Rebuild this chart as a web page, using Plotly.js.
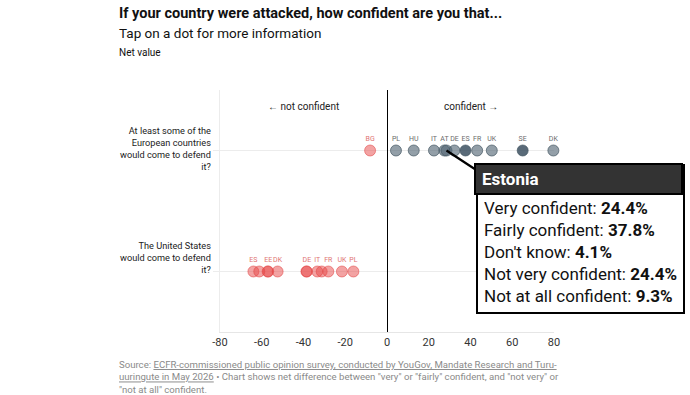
<!DOCTYPE html>
<html><head><meta charset="utf-8">
<script src="https://cdn.plot.ly/plotly-3.0.1.min.js"></script>
<style>html,body{margin:0;padding:0;background:#fff}#c{width:690px;height:395px}</style>
</head><body><div id="c"></div>
<script>
const rows = ['At least some of the<br>European countries<br>would come to defend<br>it?', 'The United States<br>would come to defend<br>it?'];
const countries = ['BG','PL','HU','IT','AT','EE','DE','ES','FR','UK','SE','DK'];
const europeNet = [-8.1, 4.3, 12.8, 22.5, 27.5, 28.5, 32.3, 37.6, 43.2, 50.2, 65.0, 79.7];
const usNet     = [-57.2, -16.1, -31.3, -33.4, -38.6, -56.9, -38.4, -64.0, -28.1, -21.6, -61.2, -52.4];
const europeLabels = ['BG','PL','HU','IT','AT','','DE','ES','FR','UK','SE','DK'];
const usLabels     = ['','PL','','IT','','EE','DE','ES','FR','UK','','DK'];
const europeDarker = ['ES','SE'];
const xTicks = [-80,-60,-40,-20,0,20,40,60,80];
const tipCountry = 'EE';
const tipName = 'Estonia';
const tipItems = ['Very confident','Fairly confident',"Don't know",'Not very confident','Not at all confident'];
const tipValues = [24.4, 37.8, 4.1, 24.4, 9.3];

const F = 'Roboto, Arial, sans-serif';
const L = 220, R = 554, T = 90, B = 332;
const px2x = p => (p - L) / (R - L);
const px2y = p => (B - p) / (B - T);

function makeTrace(vals, labels, row, darker) {
  const col = vals.map((v, i) => v < 0 ? 'rgba(232,72,72,0.5)' :
    (darker.includes(countries[i]) ? 'rgba(60,80,96,0.85)' : 'rgba(80,100,115,0.62)'));
  const lcol = vals.map(v => v < 0 ? 'rgba(225,70,70,0.55)' : 'rgba(70,88,100,0.7)');
  const tcol = vals.map(v => v < 0 ? '#e07373' : '#6b6b6b');
  return {
    type: 'scatter', mode: 'markers+text',
    x: vals, y: vals.map(() => row),
    text: labels, textposition: 'top center',
    textfont: {family: F, size: 7, color: tcol},
    marker: {size: 11, color: col, line: {width: 1, color: lcol}},
    hoverinfo: 'none', cliponaxis: false
  };
}

const data = [
  makeTrace(europeNet, europeLabels, 0, europeDarker),
  makeTrace(usNet, usLabels, 1, [])
];

const tipIdx = countries.indexOf(tipCountry);
const tipX = europeNet[tipIdx];
const tipText = tipItems.map((k, i) => k + ': <b>' + tipValues[i].toFixed(1) + '%</b>').join('<br>');

const ann = [
  {xref:'paper', yref:'paper', x: px2x(117), y: px2y(14), xanchor:'left', yanchor:'middle', showarrow:false,
   text:'<b>If your country were attacked, how confident are you that...</b>', font:{family:F, size:14.5, color:'#111'}},
  {xref:'paper', yref:'paper', x: px2x(117), y: px2y(33), xanchor:'left', yanchor:'middle', showarrow:false,
   text:'Tap on a dot for more information', font:{family:F, size:13.5, color:'#111'}},
  {xref:'paper', yref:'paper', x: px2x(117), y: px2y(52), xanchor:'left', yanchor:'middle', showarrow:false,
   text:'Net value', font:{family:F, size:10, color:'#111'}},
  {xref:'x', yref:'paper', x: -40, y: px2y(99), showarrow:false, text:'\u2190 not confident', font:{family:F, size:10, color:'#222'}},
  {xref:'x', yref:'paper', x: 40, y: px2y(99), showarrow:false, text:'confident \u2192', font:{family:F, size:10, color:'#222'}},
  {xref:'paper', yref:'y', x: px2x(213), y: 0, yshift: 2, xanchor:'right', yanchor:'middle', align:'right', showarrow:false,
   text: rows[0], font:{family:F, size:9.2, color:'#222'}},
  {xref:'paper', yref:'y', x: px2x(213), y: 1, yshift: 14, xanchor:'right', yanchor:'middle', align:'right', showarrow:false,
   text: rows[1], font:{family:F, size:9.2, color:'#222'}},
  {xref:'paper', yref:'paper', x: px2x(117), y: px2y(357), xanchor:'left', yanchor:'top', align:'left', showarrow:false,
   text:'Source: <u>ECFR-commissioned public opinion survey, conducted by YouGov, Mandate Research and Turu-</u><br><u>uuringute in May 2026</u> \u2022 Chart shows net difference between "very" or "fairly" confident, and "not very" or<br>"not at all" confident.',
   font:{family:F, size:9.6, color:'#8a8a8a'}},
  {xref:'x', yref:'y', x: tipX, y: 0, ax: 134, ay: 88, showarrow:true, arrowhead:0, arrowwidth:2.2, arrowcolor:'#000', standoff:0,
   text: tipText, align:'left', valign:'bottom', width: 193, height: 134, borderpad: 6, borderwidth: 2,
   bordercolor:'#000', bgcolor:'#fff', font:{family:F, size:17, color:'#111'}},
  {xref:'paper', yref:'paper', x: px2x(474), y: px2y(163), xanchor:'left', yanchor:'top', showarrow:false,
   text:'<b>' + tipName + '</b>', align:'left', valign:'middle', width: 193, height: 16, borderpad: 6, borderwidth: 2,
   bordercolor:'#000', bgcolor:'#333', font:{family:F, size:17, color:'#fff'}}
];

const layout = {
  width: 690, height: 395,
  margin: {l: L, r: 690 - R, t: T, b: 395 - B},
  paper_bgcolor:'#fff', plot_bgcolor:'#fff',
  showlegend:false, hovermode:false,
  xaxis: {range:[-80, 80], tickvals: xTicks, ticktext: xTicks.map(String), showgrid:false,
    zeroline:true, zerolinecolor:'#000', zerolinewidth:1,
    showline:true, linecolor:'#e6e6e6', linewidth:1,
    ticks:'', tickfont:{family:F, size:11, color:'#333'}, fixedrange:true},
  yaxis: {range:[1.5, -0.5], autorange:false, showticklabels:false, showgrid:true, gridcolor:'#ececec', gridwidth:1,
    zeroline:false, showline:true, linecolor:'#ececec', ticks:'outside', ticklen:6, tickcolor:'#ececec',
    tickvals:[0,1], fixedrange:true},
  annotations: ann
};

Plotly.newPlot('c', data, layout, {displayModeBar:false, staticPlot:true});
</script></body></html>
